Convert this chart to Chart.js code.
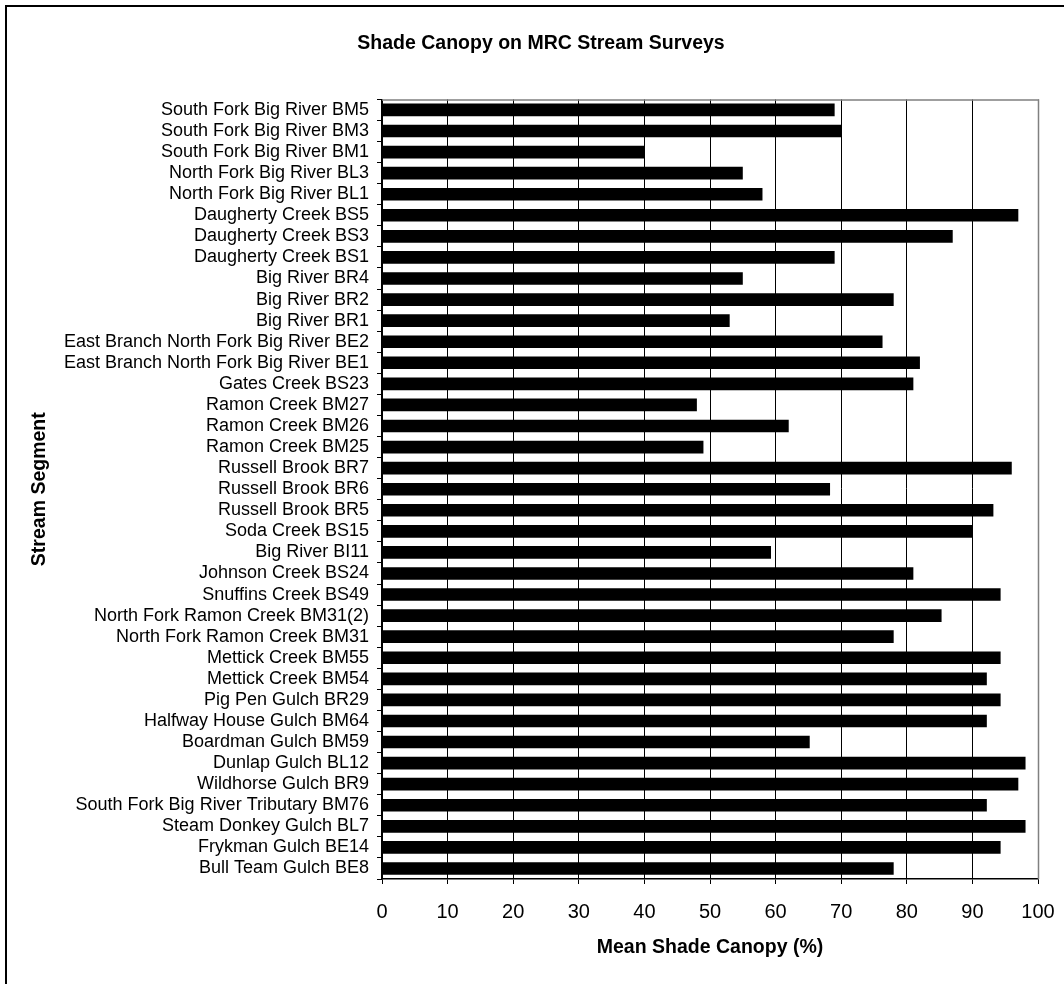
<!DOCTYPE html>
<html>
<head>
<meta charset="utf-8">
<title>Shade Canopy on MRC Stream Surveys</title>
<script src="https://cdn.jsdelivr.net/npm/chart.js@4/dist/chart.umd.min.js"></script>
<style>
  html, body { margin: 0; padding: 0; background: #fff; }
  #wrap { position: relative; width: 1064px; height: 984px; }
</style>
</head>
<body>
<div id="wrap"><canvas id="c" width="1064" height="984"></canvas></div>
<script>
// Stream segments, top to bottom
const segments = [
  "South Fork Big River BM5",
  "South Fork Big River BM3",
  "South Fork Big River BM1",
  "North Fork Big River BL3",
  "North Fork Big River BL1",
  "Daugherty Creek BS5",
  "Daugherty Creek BS3",
  "Daugherty Creek BS1",
  "Big River BR4",
  "Big River BR2",
  "Big River BR1",
  "East Branch North Fork Big River BE2",
  "East Branch North Fork Big River BE1",
  "Gates Creek BS23",
  "Ramon Creek BM27",
  "Ramon Creek BM26",
  "Ramon Creek BM25",
  "Russell Brook BR7",
  "Russell Brook BR6",
  "Russell Brook BR5",
  "Soda Creek BS15",
  "Big River BI11",
  "Johnson Creek BS24",
  "Snuffins Creek BS49",
  "North Fork Ramon Creek BM31(2)",
  "North Fork Ramon Creek BM31",
  "Mettick Creek BM55",
  "Mettick Creek BM54",
  "Pig Pen Gulch BR29",
  "Halfway House Gulch BM64",
  "Boardman Gulch BM59",
  "Dunlap Gulch BL12",
  "Wildhorse Gulch BR9",
  "South Fork Big River Tributary BM76",
  "Steam Donkey Gulch BL7",
  "Frykman Gulch BE14",
  "Bull Team Gulch BE8"
];

// Mean shade canopy (%) per segment
const meanShadeCanopy = [
  69, 70, 40, 55, 58, 97, 87, 69, 55, 78,
  53, 76.3, 82, 81, 48, 62, 49, 96, 68.3, 93.2,
  90, 59.3, 81, 94.3, 85.3, 78, 94.3, 92.2, 94.3, 92.2,
  65.2, 98.1, 97, 92.2, 98.1, 94.3, 78
];

// Value axis ticks
const xTicks = [0, 10, 20, 30, 40, 50, 60, 70, 80, 90, 100];

const FONT = "'Liberation Sans', Arial, Helvetica, sans-serif";

// Outer frame and the grey top/right edges of the plot area
const framePlugin = {
  id: 'frame',
  beforeDraw(chart) {
    const ctx = chart.ctx;
    ctx.save();
    ctx.fillStyle = '#fff';
    ctx.fillRect(0, 0, chart.width, chart.height);
    ctx.strokeStyle = '#000';
    ctx.lineWidth = 2;
    ctx.strokeRect(6, 6, chart.width + 20, chart.height + 20);
    ctx.restore();
  },
  afterDraw(chart) {
    const {ctx, chartArea: a} = chart;
    ctx.save();
    ctx.strokeStyle = '#808080';
    ctx.lineWidth = 1.5;
    ctx.beginPath();
    ctx.moveTo(a.left, a.top + 0.5);
    ctx.lineTo(a.right + 0.5, a.top + 0.5);
    ctx.lineTo(a.right + 0.5, a.bottom);
    ctx.stroke();
    ctx.restore();
  }
};

new Chart(document.getElementById('c'), {
  type: 'bar',
  data: {
    labels: segments,
    datasets: [{
      data: meanShadeCanopy,
      backgroundColor: '#000',
      borderWidth: 0,
      barPercentage: 0.6,
      categoryPercentage: 1.0
    }]
  },
  plugins: [framePlugin],
  options: {
    indexAxis: 'y',
    responsive: false,
    animation: false,
    layout: { padding: { left: 18, right: 0, top: 0, bottom: 0 } },
    plugins: {
      legend: { display: false },
      tooltip: { enabled: false },
      title: {
        display: true,
        text: 'Shade Canopy on MRC Stream Surveys',
        color: '#000',
        font: { family: FONT, size: 19.5, weight: 'bold' },
        padding: { top: 32, bottom: 44 }
      }
    },
    scales: {
      x: {
        type: 'linear',
        min: 0,
        max: 100,
        afterBuildTicks(axis) {
          axis.ticks = xTicks.map(v => ({ value: v }));
        },
        afterFit(axis) {
          axis.height = 105;
          axis.paddingLeft = 0;
          axis.paddingRight = 26;
        },
        border: { display: true, color: '#000', width: 1.5 },
        grid: {
          display: true,
          drawOnChartArea: true,
          drawTicks: true,
          tickLength: 5,
          lineWidth: 1,
          color: ctx => (ctx.tick && ctx.tick.value === 100) ? '#808080' : '#000',
          tickColor: '#000'
        },
        ticks: {
          color: '#000',
          font: { family: FONT, size: 20 },
          padding: 16
        },
        title: {
          display: true,
          text: 'Mean Shade Canopy (%)',
          color: '#000',
          font: { family: FONT, size: 19.5, weight: 'bold' },
          padding: { top: 0, bottom: 25 }
        }
      },
      y: {
        type: 'category',
        afterFit(axis) { axis.width = 364; },
        border: { display: true, color: '#000', width: 1.5 },
        grid: {
          display: true,
          offset: true,
          drawOnChartArea: false,
          drawTicks: true,
          tickLength: 5,
          color: '#000'
        },
        ticks: {
          color: '#000',
          font: { family: FONT, size: 18 },
          padding: 8,
          autoSkip: false
        },
        title: {
          display: true,
          text: 'Stream Segment',
          color: '#000',
          font: { family: FONT, size: 19.5, weight: 'bold' },
          padding: { top: 10, bottom: 0 }
        }
      }
    }
  }
});
</script>
</body>
</html>
